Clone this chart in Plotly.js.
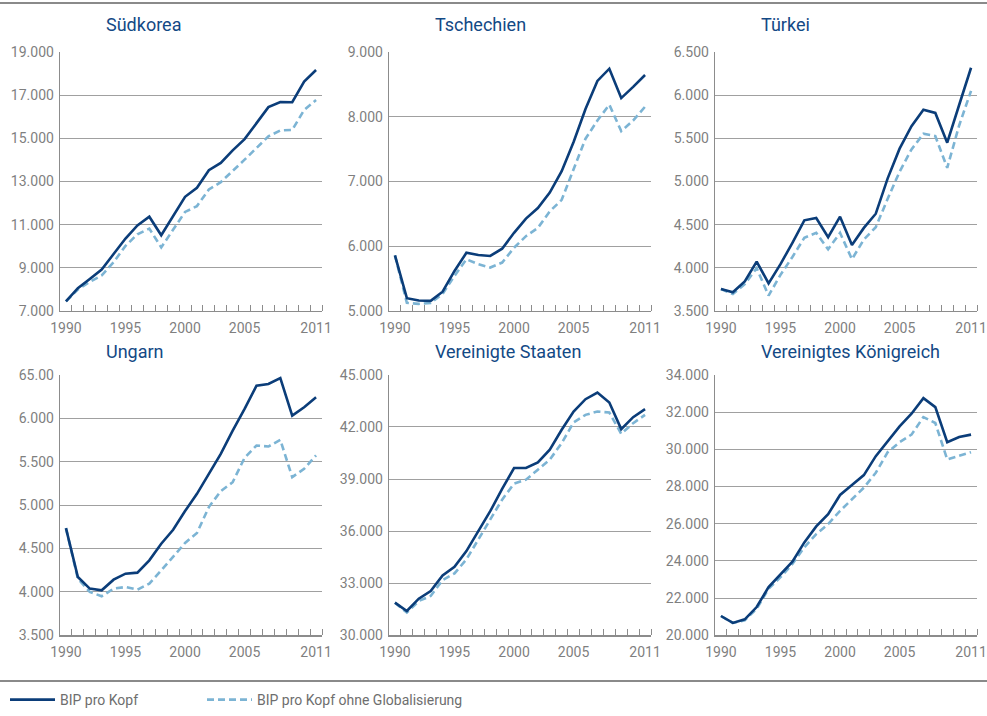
<!DOCTYPE html>
<html><head><meta charset="utf-8">
<script src="https://cdn.plot.ly/plotly-3.0.1.min.js"></script>
<style>html,body{margin:0;padding:0;background:#fff}#chart{width:987px;height:716px}</style>
</head><body><div id="chart"></div>
<script>
const years = [1990,1991,1992,1993,1994,1995,1996,1997,1998,1999,2000,2001,2002,2003,2004,2005,2006,2007,2008,2009,2010,2011];
const xTickVals = [1990,1995,2000,2005,2011];
const xTickText = ["1990","1995","2000","2005","2011"];
const seriesNames = ["BIP pro Kopf","BIP pro Kopf ohne Globalisierung"];
const countries = ["Südkorea","Tschechien","Türkei","Ungarn","Vereinigte Staaten","Vereinigtes Königreich"];

const koreaBip  = [7450,8060,8490,8920,9640,10360,10970,11370,10510,11400,12290,12710,13520,13860,14440,14960,15700,16440,16680,16670,17620,18160];
const koreaOhne = [7450,8000,8350,8650,9260,10020,10560,10820,9950,10790,11590,11860,12630,12970,13480,14010,14550,15090,15360,15390,16310,16770];
const czBip  = [5860,5200,5165,5158,5300,5620,5900,5866,5851,5963,6208,6427,6590,6829,7160,7609,8118,8552,8740,8287,8460,8643];
const czOhne = [5860,5127,5112,5127,5265,5545,5800,5724,5673,5749,5978,6157,6284,6539,6717,7176,7660,7940,8185,7777,7940,8154];
const trBip  = [3756,3718,3844,4073,3821,4043,4291,4551,4578,4356,4593,4265,4463,4627,5036,5380,5640,5831,5793,5449,5885,6316];
const trOhne = [3756,3699,3813,3997,3680,3920,4127,4348,4406,4215,4406,4100,4329,4471,4800,5113,5372,5552,5525,5158,5648,6049];
const huBip  = [4735,4171,4037,4018,4140,4209,4221,4363,4555,4716,4931,5130,5360,5590,5859,6108,6377,6396,6465,6032,6128,6243];
const huOhne = [4735,4152,3999,3949,4037,4056,4025,4095,4248,4401,4563,4678,4977,5161,5264,5545,5687,5675,5752,5322,5418,5572];
const usBip  = [31877,31398,32107,32548,33448,33946,34847,35996,37146,38429,39636,39636,39962,40690,41839,42893,43602,43985,43410,41877,42567,43027];
const usOhne = [31877,31303,31973,32261,33180,33563,34368,35517,36667,37816,38736,38966,39540,40115,41073,42261,42701,42893,42835,41609,42222,42701];
const ukBip  = [21034,20660,20856,21516,22586,23246,23959,24994,25850,26510,27544,28079,28614,29631,30433,31236,31914,32752,32270,30380,30665,30790];
const ukOhne = [21034,20660,20803,21427,22497,23121,23834,24726,25440,25975,26688,27312,27936,28739,29845,30380,30790,31735,31414,29452,29666,29845];

const koreaTickVals = [7000,9000,11000,13000,15000,17000,19000];
const koreaTickText = ["7.000","9.000","11.000","13.000","15.000","17.000","19.000"];
const czTickVals = [5000,6000,7000,8000,9000];
const czTickText = ["5.000","6.000","7.000","8.000","9.000"];
const trTickVals = [3500,4000,4500,5000,5500,6000,6500];
const trTickText = ["3.500","4.000","4.500","5.000","5.500","6.000","6.500"];
const huTickVals = [3500,4000,4500,5000,5500,6000,6500];
const huTickText = ["3.500","4.000","4.500","5.000","5.500","6.000","65.00"];
const usTickVals = [30000,33000,36000,39000,42000,45000];
const usTickText = ["30.000","33.000","36.000","39.000","42.000","45.000"];
const ukTickVals = [20000,22000,24000,26000,28000,30000,32000,34000];
const ukTickText = ["20.000","22.000","24.000","26.000","28.000","30.000","32.000","34.000"];

const panels = [
  {bip: koreaBip, ohne: koreaOhne, tv: koreaTickVals, tt: koreaTickText},
  {bip: czBip, ohne: czOhne, tv: czTickVals, tt: czTickText},
  {bip: trBip, ohne: trOhne, tv: trTickVals, tt: trTickText},
  {bip: huBip, ohne: huOhne, tv: huTickVals, tt: huTickText},
  {bip: usBip, ohne: usOhne, tv: usTickVals, tt: usTickText},
  {bip: ukBip, ohne: ukOhne, tv: ukTickVals, tt: ukTickText}
];

const W = 987, H = 716;
const DARK = '#0b3d79', LIGHT = '#7cb4d4', GRID = '#a0a0a0', AXIS = '#8c8c8c', TXT = '#7f7f7f';
const FONT = 'Roboto, "Liberation Sans", sans-serif';
const colPx = [[60,322],[389,651],[715,977]];
const rowPx = [[52,312],[376,637]];
const titleY = [25, 352];
// year-boundary tick positions (between the yearly points)
const boundaryTicks = years.map(y => y + 0.5);

const legendFont = {family: FONT, size: 14, color: '#6e6e6e'};
const traces = [];
const layout = {
  width: W, height: H,
  margin: {l:0, r:0, t:0, b:0},
  paper_bgcolor: '#fff', plot_bgcolor: '#fff',
  font: {family: FONT, size: 14, color: TXT},
  showlegend: true,
  legend:  {orientation: 'h', x: 5 / W,   xanchor: 'left', y: 1 - 702/H, yanchor: 'middle', font: legendFont, bgcolor: 'rgba(0,0,0,0)', itemwidth: 45},
  legend2: {orientation: 'h', x: 202 / W, xanchor: 'left', y: 1 - 702/H, yanchor: 'middle', font: legendFont, bgcolor: 'rgba(0,0,0,0)', itemwidth: 45},
  annotations: [],
  shapes: [
    {type:'line', xref:'paper', yref:'paper', x0:0, x1:1, y0:1-3/H, y1:1-3/H, line:{color:'#8a8a8a', width:2}},
    {type:'line', xref:'paper', yref:'paper', x0:0, x1:1, y0:1-683/H, y1:1-683/H, line:{color:'#8a8a8a', width:2}}
  ]
};

panels.forEach((p, i) => {
  const n = i + 1;
  const sfx = n === 1 ? '' : String(n);
  const col = i % 3, row = Math.floor(i / 3);
  const xd = [colPx[col][0] / W, colPx[col][1] / W];
  const yd = [1 - rowPx[row][1] / H, 1 - rowPx[row][0] / H];
  // dashed first so that the solid line is drawn on top
  traces.push({
    type: 'scatter', mode: 'lines', x: years, y: p.ohne, name: seriesNames[1],
    xaxis: 'x' + sfx, yaxis: 'y' + sfx, line: {color: LIGHT, width: 2.6, dash: '7px,4px'},
    showlegend: i === 0, legend: 'legend2', hoverinfo: 'skip'
  });
  traces.push({
    type: 'scatter', mode: 'lines', x: years, y: p.bip, name: seriesNames[0],
    xaxis: 'x' + sfx, yaxis: 'y' + sfx, line: {color: DARK, width: 2.6},
    showlegend: i === 0, legend: 'legend', hoverinfo: 'skip'
  });

  layout['xaxis' + sfx] = {
    domain: xd, anchor: 'y' + sfx, range: [1989.5, 2011.5],
    tickmode: 'array', tickvals: xTickVals, ticktext: xTickText,
    ticks: '', 
    minor: {tickmode: 'array', tickvals: boundaryTicks, ticks: 'inside', ticklen: 6, tickcolor: AXIS, tickwidth: 1, showgrid: false},
    showline: true, linecolor: AXIS, linewidth: 1.3, showgrid: false, zeroline: false,
    ticklabeloverflow: 'allow', ticklabelstandoff: 4,
    tickfont: {family: FONT, size: 14, color: TXT}, fixedrange: true
  };
  layout['yaxis' + sfx] = {
    domain: yd, anchor: 'x' + sfx, range: [p.tv[0], p.tv[p.tv.length - 1]],
    tickmode: 'array', tickvals: p.tv, ticktext: p.tt,
    ticks: '', showline: true, linecolor: AXIS, linewidth: 1.3,
    showgrid: true, gridcolor: GRID, gridwidth: 1, zeroline: false,
    tickfont: {family: FONT, size: 14, color: TXT}, ticklabelstandoff: 2, fixedrange: true
  };
  layout.annotations.push({
    xref: 'paper', yref: 'paper', x: (colPx[col][0] + 44) / W, y: 1 - titleY[row] / H,
    xanchor: 'left', yanchor: 'middle', showarrow: false, text: countries[i],
    font: {family: FONT, size: 18, color: '#134985'}
  });
});

Plotly.newPlot('chart', traces, layout, {displayModeBar: false, staticPlot: true});
</script></body></html>
